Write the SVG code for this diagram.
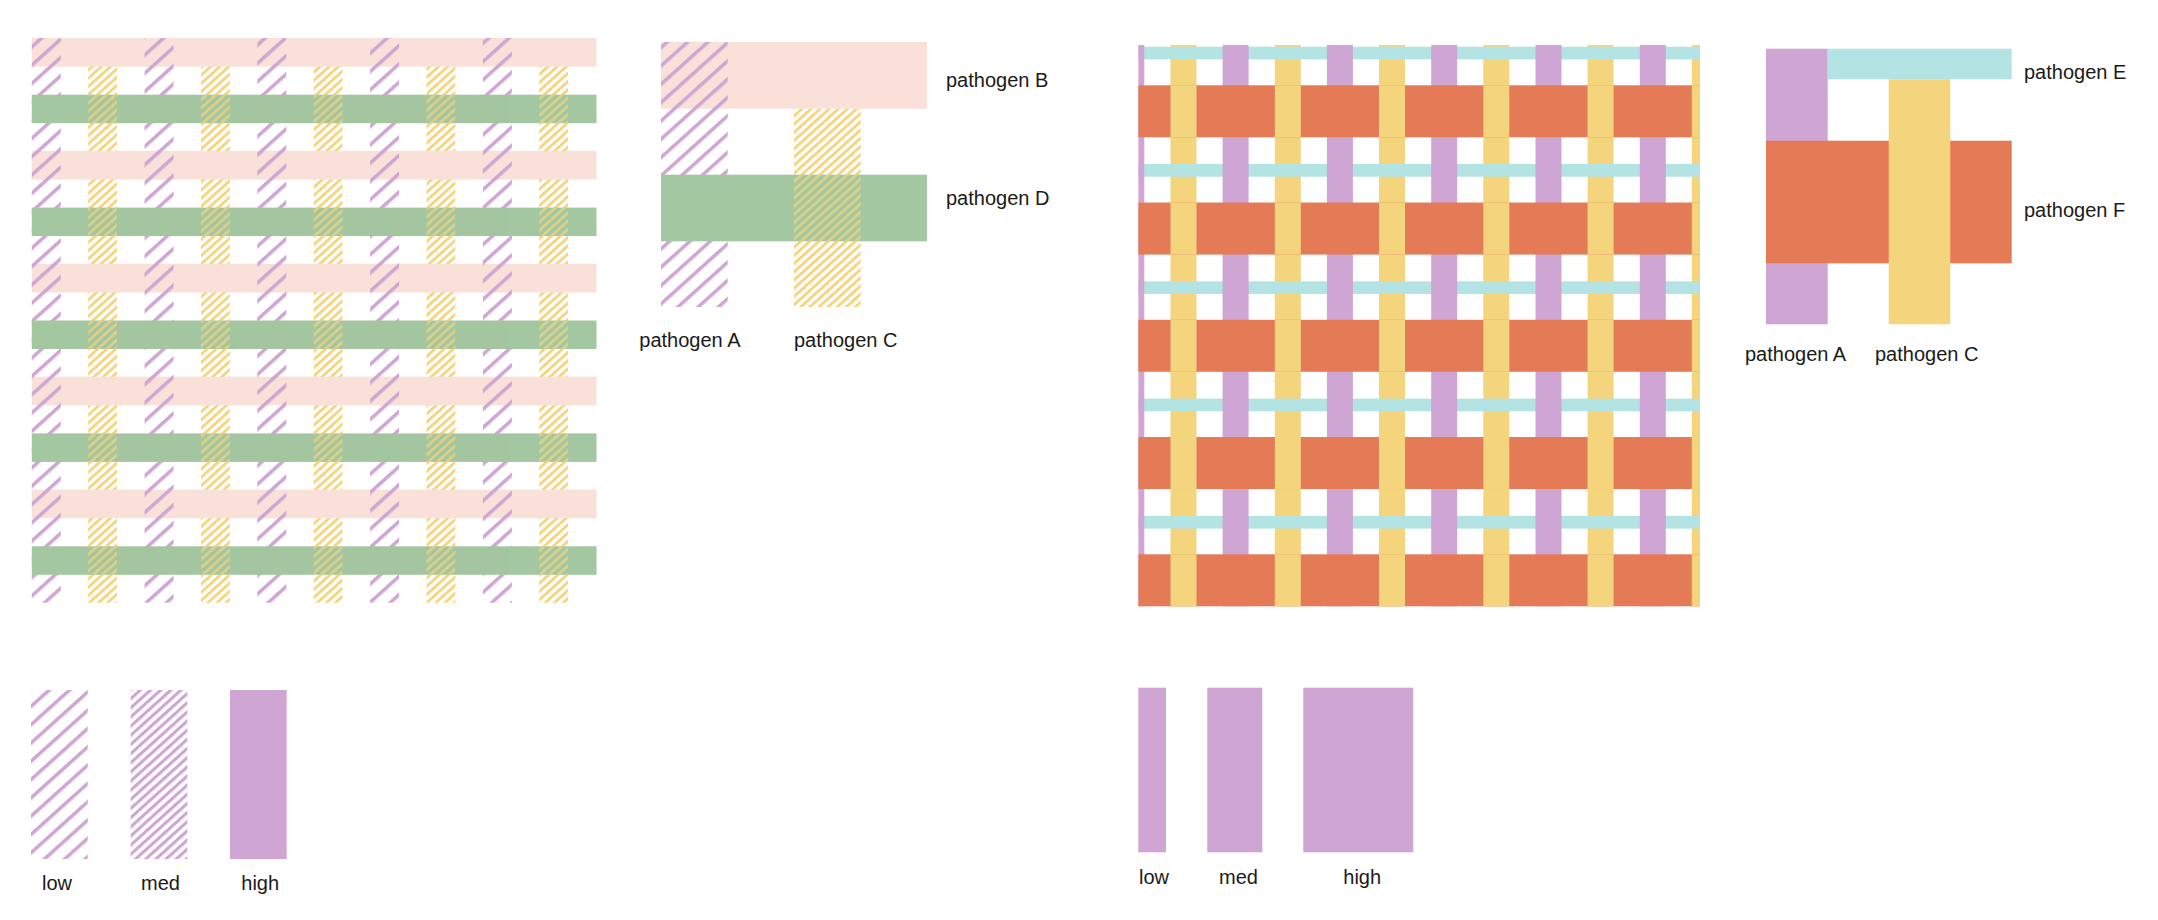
<svg xmlns="http://www.w3.org/2000/svg" xmlns:xlink="http://www.w3.org/1999/xlink" width="2158" height="920" viewBox="0 0 2158 920">
<style>
.pink{fill:#F9E0D8}
.green{fill:#A3C7A1}
.purple{fill:#CFA5D3}
.yellow{fill:#F4D57E}
.orange{fill:#E47A56}
.cyan{fill:#B3E3E3}
.hLow{fill:url(#hatchLow)}
.hMed{fill:url(#hatchMed)}
.hYel{fill:url(#hatchYel)}
text{font-family:"Liberation Sans",Arial,sans-serif;font-size:20px;fill:#1a1a1a}
</style>
<defs>
<pattern id="hatchLow" patternUnits="userSpaceOnUse" width="13.6" height="13.6" patternTransform="rotate(-42)">
<rect width="13.6" height="3.5" fill="#CFA5D3"/>
</pattern>
<pattern id="hatchMed" patternUnits="userSpaceOnUse" width="6.8" height="6.8" patternTransform="rotate(-42)">
<rect width="6.8" height="3.1" fill="#CFA5D3"/>
</pattern>
<pattern id="hatchYel" patternUnits="userSpaceOnUse" width="6.1" height="6.1" patternTransform="rotate(-42)">
<rect width="6.1" height="2.8" fill="#F4D57E"/>
</pattern>
<g id="p1YellowCols">
<rect class="hYel" x="88.2" y="38" width="28.8" height="564.7"/>
<rect class="hYel" x="201" y="38" width="28.8" height="564.7"/>
<rect class="hYel" x="313.7" y="38" width="28.8" height="564.7"/>
<rect class="hYel" x="426.5" y="38" width="28.8" height="564.7"/>
<rect class="hYel" x="539.2" y="38" width="28.8" height="564.7"/>
</g>
<clipPath id="p1GreenClip">
<rect x="31.8" y="94.7" width="564.7" height="28.5"/>
<rect x="31.8" y="207.6" width="564.7" height="28.5"/>
<rect x="31.8" y="320.5" width="564.7" height="28.5"/>
<rect x="31.8" y="433.4" width="564.7" height="28.5"/>
<rect x="31.8" y="546.3" width="564.7" height="28.5"/>
</clipPath>
<g id="p3YellowCols">
<rect class="yellow" x="1170.5" y="45" width="26" height="561.3"/>
<rect class="yellow" x="1274.8" y="45" width="26" height="561.3"/>
<rect class="yellow" x="1379" y="45" width="26" height="561.3"/>
<rect class="yellow" x="1483.3" y="45" width="26" height="561.3"/>
<rect class="yellow" x="1587.6" y="45" width="26" height="561.3"/>
<rect class="yellow" x="1691.8" y="45" width="8.2" height="561.3"/>
</g>
<clipPath id="p3OrangeClip">
<rect x="1138.4" y="85.3" width="561.6" height="52"/>
<rect x="1138.4" y="202.55" width="561.6" height="52"/>
<rect x="1138.4" y="319.8" width="561.6" height="52"/>
<rect x="1138.4" y="437.05" width="561.6" height="52"/>
<rect x="1138.4" y="554.3" width="561.6" height="52"/>
</clipPath>
</defs>

<g id="weave-hatched">
<use xlink:href="#p1YellowCols"/>
<g id="p1-pink-rows">
<rect class="pink" x="31.8" y="38" width="564.7" height="28.7"/>
<rect class="pink" x="31.8" y="150.9" width="564.7" height="28.7"/>
<rect class="pink" x="31.8" y="263.8" width="564.7" height="28.7"/>
<rect class="pink" x="31.8" y="376.7" width="564.7" height="28.7"/>
<rect class="pink" x="31.8" y="489.6" width="564.7" height="28.7"/>
</g>
<g id="p1-purple-cols">
<rect class="hLow" x="31.8" y="38" width="29" height="564.7"/>
<rect class="hLow" x="144.6" y="38" width="29" height="564.7"/>
<rect class="hLow" x="257.3" y="38" width="29" height="564.7"/>
<rect class="hLow" x="370.1" y="38" width="29" height="564.7"/>
<rect class="hLow" x="482.9" y="38" width="29" height="564.7"/>
</g>
<g id="p1-green-rows">
<rect class="green" x="31.8" y="94.7" width="564.7" height="28.5"/>
<rect class="green" x="31.8" y="207.6" width="564.7" height="28.5"/>
<rect class="green" x="31.8" y="320.5" width="564.7" height="28.5"/>
<rect class="green" x="31.8" y="433.4" width="564.7" height="28.5"/>
<rect class="green" x="31.8" y="546.3" width="564.7" height="28.5"/>
</g>
<g clip-path="url(#p1GreenClip)" opacity="0.7">
<use xlink:href="#p1YellowCols"/>
</g>
</g>

<g id="key-hatched">
<rect class="hYel" x="794" y="108.7" width="66.7" height="198.3"/>
<rect id="pathogen-B" class="pink" x="661" y="42" width="266" height="66.7"/>
<rect id="pathogen-A-hatched" class="hLow" x="661" y="42" width="66.7" height="265"/>
<rect id="pathogen-D" class="green" x="661" y="174.7" width="266" height="66.6"/>
<rect id="pathogen-C-hatched" class="hYel" x="794" y="174.7" width="66.7" height="66.6" opacity="0.7"/>
<text x="946" y="86.7">pathogen B</text>
<text x="946" y="205">pathogen D</text>
<text x="639.3" y="346.7">pathogen A</text>
<text x="794" y="346.7">pathogen C</text>
</g>

<g id="weave-solid">
<use xlink:href="#p3YellowCols"/>
<g id="p3-cyan-rows">
<rect class="cyan" x="1138.4" y="46.7" width="561.6" height="12.7"/>
<rect class="cyan" x="1138.4" y="164" width="561.6" height="12.7"/>
<rect class="cyan" x="1138.4" y="281.3" width="561.6" height="12.7"/>
<rect class="cyan" x="1138.4" y="398.6" width="561.6" height="12.7"/>
<rect class="cyan" x="1138.4" y="515.9" width="561.6" height="12.7"/>
</g>
<g id="p3-purple-cols">
<rect class="purple" x="1138.4" y="45" width="5.9" height="561.3"/>
<rect class="purple" x="1222.6" y="45" width="26" height="561.3"/>
<rect class="purple" x="1326.9" y="45" width="26" height="561.3"/>
<rect class="purple" x="1431.2" y="45" width="26" height="561.3"/>
<rect class="purple" x="1535.5" y="45" width="26" height="561.3"/>
<rect class="purple" x="1639.8" y="45" width="26" height="561.3"/>
</g>
<g id="p3-orange-rows">
<rect class="orange" x="1138.4" y="85.3" width="561.6" height="52"/>
<rect class="orange" x="1138.4" y="202.55" width="561.6" height="52"/>
<rect class="orange" x="1138.4" y="319.8" width="561.6" height="52"/>
<rect class="orange" x="1138.4" y="437.05" width="561.6" height="52"/>
<rect class="orange" x="1138.4" y="554.3" width="561.6" height="52"/>
</g>
<g clip-path="url(#p3OrangeClip)">
<use xlink:href="#p3YellowCols"/>
</g>
</g>

<g id="key-solid">
<rect id="pathogen-A-solid" class="purple" x="1766" y="48.7" width="61.7" height="275.6"/>
<rect id="pathogen-E" class="cyan" x="1827.7" y="48.7" width="184" height="30.6"/>
<rect id="pathogen-F" class="orange" x="1766" y="140.7" width="245.7" height="122.6"/>
<rect id="pathogen-C-solid" class="yellow" x="1888.7" y="79.3" width="61.6" height="245"/>
<text x="2024" y="79.3">pathogen E</text>
<text x="2024" y="217.3">pathogen F</text>
<text x="1745" y="360.7">pathogen A</text>
<text x="1875" y="360.7">pathogen C</text>
</g>

<g id="legend-hatched">
<rect id="hatch-low" class="hLow" x="31" y="690" width="56.7" height="169"/>
<rect id="hatch-med" class="hMed" x="130.7" y="690" width="56.6" height="169"/>
<rect id="hatch-high" class="purple" x="230" y="690" width="56.7" height="169"/>
<text x="42" y="890">low</text>
<text x="141" y="890">med</text>
<text x="241.3" y="890">high</text>
</g>

<g id="legend-solid">
<rect id="width-low" class="purple" x="1138.3" y="687.7" width="27.7" height="164.6"/>
<rect id="width-med" class="purple" x="1207.3" y="687.7" width="55" height="164.6"/>
<rect id="width-high" class="purple" x="1303.3" y="687.7" width="110" height="164.6"/>
<text x="1139" y="884.3">low</text>
<text x="1219" y="884.3">med</text>
<text x="1343.3" y="884.3">high</text>
</g>
</svg>
